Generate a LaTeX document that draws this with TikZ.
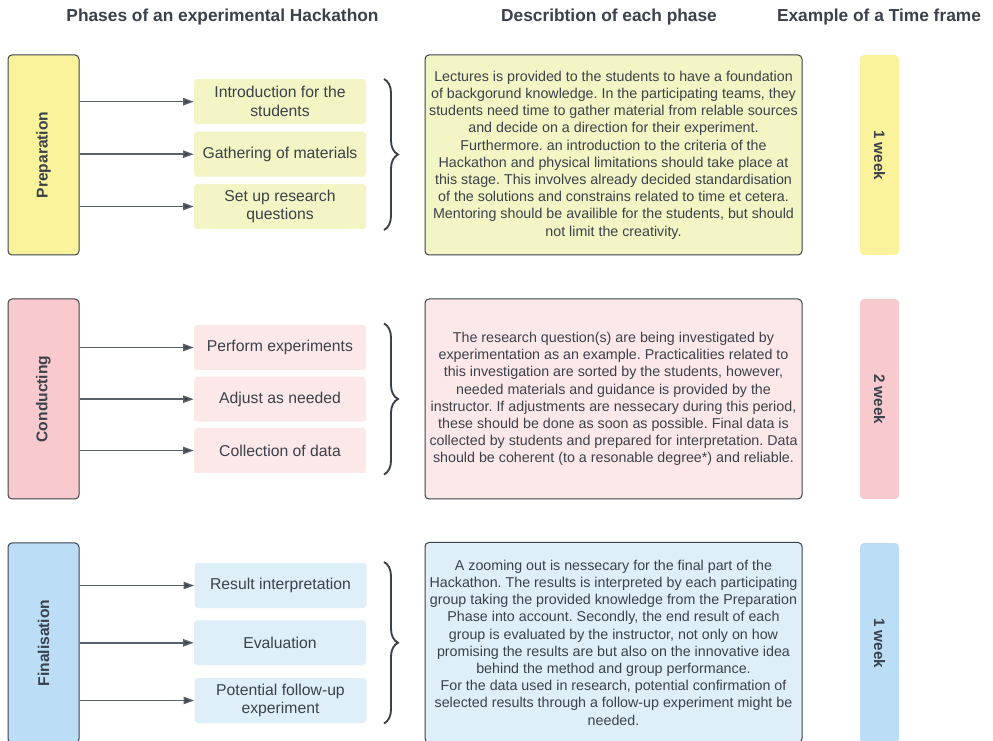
\documentclass[tikz,border=0pt]{standalone}
\usepackage{fontspec}
\setmainfont{Liberation Sans}
\usetikzlibrary{arrows.meta,decorations.pathreplacing}
\frenchspacing

\definecolor{ink}{HTML}{3A414A}
\definecolor{wire}{HTML}{59606A}
\definecolor{yelA}{HTML}{FAF39C}
\definecolor{yelB}{HTML}{F4F5C4}
\definecolor{pinkA}{HTML}{F8CACD}
\definecolor{pinkB}{HTML}{FDE8E9}
\definecolor{blueA}{HTML}{BBDDF5}
\definecolor{blueB}{HTML}{DFEFF9}

\begin{document}
\begin{tikzpicture}[x=0.75pt,y=-0.75pt,
  head/.style={font=\fontsize{13}{15}\selectfont\bfseries, text=ink},
  phase/.style={draw=ink, line width=0.75pt, rounded corners=3pt,
    minimum width=53.25pt, minimum height=150pt, inner sep=0pt,
    text=ink, font=\fontsize{11.7}{14}\selectfont\bfseries},
  item/.style={rounded corners=2.5pt, minimum width=129pt, minimum height=33.75pt,
    inner sep=0pt, align=center, text=ink, font=\fontsize{11.8}{14}\selectfont},
  desc/.style={draw=ink, line width=0.75pt, rounded corners=3pt,
    minimum width=282.75pt, minimum height=150pt, inner sep=0pt,
    align=center, text=ink, font=\fontsize{10.7}{12.9}\selectfont},
  span/.style={rounded corners=3pt, minimum width=29.25pt, minimum height=150pt,
    inner sep=0pt, text=ink, font=\fontsize{11.4}{14}\selectfont\bfseries},
  arr/.style={draw=wire, line width=1.1pt, -{Triangle[length=8pt,width=5.5pt,fill=ink]}},
  brc/.style={draw=ink, line width=1.4pt, decorate,
    decoration={brace, amplitude=10.5pt}}
]
\clip (0,0) rectangle (993,741);
\fill[white] (0,0) rectangle (993,741);

% column headings
\node[head] (hphase) at (222.5,17) {Phases of an experimental Hackathon};
\node[head] (hdesc) at (609,17) {Describtion of each phase};
\node[head] (htime) at (879,17) {Example of a Time frame};

% ---------- Preparation ----------
\node[phase, fill=yelA] (prep) at (43.5,155) {\rotatebox{90}{Preparation}};
\node[item, fill=yelB] (p1) at (280,101.7) {Introduction for the\\students};
\node[item, fill=yelB] (p2) at (280,154.2) {Gathering of materials};
\node[item, fill=yelB] (p3) at (280,206.5) {Set up research\\questions};
\foreach \n in {p1,p2,p3} \draw[arr] (prep.east |- \n.west) -- (\n.west);
\draw[brc] (384,79) -- (384,230);
\node[desc, fill=yelB] (pdesc) at (613.5,155) {%
Lectures is provided to the students to have a foundation\\
of backgorund knowledge. In the participating teams, they\\
students need time to gather material from relable sources\\
and decide on a direction for their experiment.\\
Furthermore. an introduction to the criteria of the\\
Hackathon and physical limitations should take place at\\
this stage. This involves already decided standardisation\\
of the solutions and constrains related to time et cetera.\\
Mentoring should be availible for the students, but should\\
not limit the creativity.};
\node[span, fill=yelA] (ptime) at (879.5,155) {\rotatebox{-90}{1 week}};

% ---------- Conducting ----------
\node[phase, fill=pinkA] (cond) at (43.5,399) {\rotatebox{90}{Conducting}};
\node[item, fill=pinkB] (c1) at (280,347.5) {Perform experiments};
\node[item, fill=pinkB] (c2) at (280,399.2) {Adjust as needed};
\node[item, fill=pinkB] (c3) at (280,450.5) {Collection of data};
\foreach \n in {c1,c2,c3} \draw[arr] (cond.east |- \n.west) -- (\n.west);
\draw[brc] (384,323.5) -- (384,474.5);
\node[desc, fill=pinkB] (cdesc) at (613.5,399) {%
The research question(s) are being investigated by\\
experimentation as an example. Practicalities related to\\
this investigation are sorted by the students, however,\\
needed materials and guidance is provided by the\\
instructor. If adjustments are nessecary during this period,\\
these should be done as soon as possible. Final data is\\
collected by students and prepared for interpretation. Data\\
should be coherent (to a resonable degree*) and reliable.};
\node[span, fill=pinkA] (ctime) at (879.5,399) {\rotatebox{-90}{2 week}};

% ---------- Finalisation ----------
\node[phase, fill=blueA] (fin) at (43.5,643) {\rotatebox{90}{Finalisation}};
\node[item, fill=blueB] (f1) at (280.5,585.5) {Result interpretation};
\node[item, fill=blueB] (f2) at (280,642.8) {Evaluation};
\node[item, fill=blueB] (f3) at (280.5,700.5) {Potential follow-up\\experiment};
\foreach \n in {f1,f2,f3} \draw[arr] (fin.east |- \n.west) -- (\n.west);
\draw[brc] (384,562) -- (384,723.5);
\node[desc, fill=blueB] (fdesc) at (613.5,642.5) {%
A zooming out is nessecary for the final part of the\\
Hackathon. The results is interpreted by each participating\\
group taking the provided knowledge from the Preparation\\
Phase into account. Secondly, the end result of each\\
group is evaluated by the instructor, not only on how\\
promising the results are but also on the innovative idea\\
behind the method and group performance.\\
For the data used in research, potential confirmation of\\
selected results through a follow-up experiment might be\\
needed.};
\node[span, fill=blueA] (ftime) at (879.5,643) {\rotatebox{-90}{1 week}};
\end{tikzpicture}
\end{document}
